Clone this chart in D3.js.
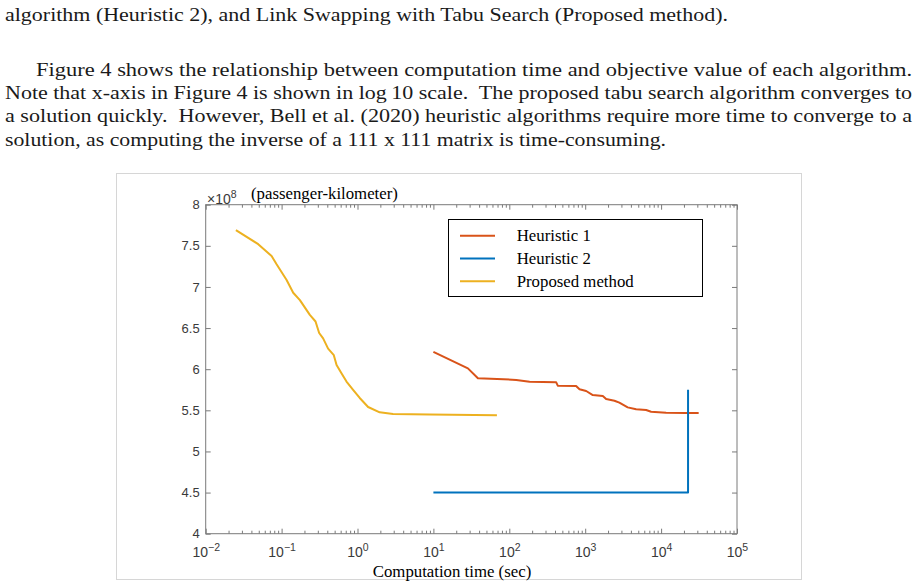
<!DOCTYPE html>
<html>
<head>
<meta charset="utf-8">
<script src="https://cdn.jsdelivr.net/npm/d3@7"></script>
<style>
  html, body { margin: 0; padding: 0; background: #fff; }
  svg { display: block; }
</style>
</head>
<body>
<svg id="page" width="919" height="588"></svg>
<script>
// ---------------- data ----------------
const paragraphLines = [
  "algorithm (Heuristic 2), and Link Swapping with Tabu Search (Proposed method).",
  "Figure 4 shows the relationship between computation time and objective value of each algorithm.",
  "Note that x-axis in Figure 4 is shown in log\u200910 scale.  The proposed tabu search algorithm converges to",
  "a solution quickly.  However, Bell et al. (2020) heuristic algorithms require more time to converge to a",
  "solution, as computing the inverse of a 111 x 111 matrix is time-consuming."
];

const seriesNames = ["Heuristic 1", "Heuristic 2", "Proposed method"];

const heuristic1Time = [10, 28.5, 38.6, 123.6, 185, 415, 435, 759, 841, 1030, 1259, 1706, 1888,
  2427, 2818, 3631, 4688, 6353, 7379, 11641, 21330, 31260];
const heuristic1Value = [6.21, 6.01, 5.89, 5.87, 5.848, 5.84, 5.80, 5.796, 5.756, 5.735, 5.686,
  5.674, 5.637, 5.617, 5.593, 5.536, 5.512, 5.504, 5.483, 5.471, 5.467, 5.467];

const heuristic2Time = [10, 22650, 22650];
const heuristic2Value = [4.5, 4.5, 5.75];

const proposedTime = [0.025, 0.0492, 0.0738, 0.0859, 0.1164, 0.1422, 0.1742, 0.2355, 0.280,
  0.3126, 0.3524, 0.410, 0.4875, 0.53, 0.615, 0.716, 0.875, 1.07, 1.38, 1.96, 2.94, 8.93, 68.7];
const proposedValue = [7.69, 7.52, 7.376, 7.275, 7.085, 6.93, 6.84, 6.66, 6.58, 6.44, 6.375,
  6.25, 6.17, 6.05, 5.95, 5.85, 5.75, 5.65, 5.54, 5.476, 5.455, 5.45, 5.44];

const xTickExponents = [-2, -1, 0, 1, 2, 3, 4, 5];
const yTicks = [4, 4.5, 5, 5.5, 6, 6.5, 7, 7.5, 8];
const yExponentLabel = "8";
const yUnitLabel = "(passenger-kilometer)";
const xAxisTitle = "Computation time (sec)";

// ---------------- layout ----------------
const svg = d3.select("#page");
const colors = ["#D95319", "#0072BD", "#EDB120"];
const serif = "'Liberation Serif', 'Times New Roman', serif";
const sans = "'Liberation Sans', Arial, sans-serif";

// paragraph
const paraSpec = [
  {x: 5,  y: 20.5,  w: 723},
  {x: 36, y: 75.5,  w: 876},
  {x: 5,  y: 98.5,  w: 907},
  {x: 5,  y: 122,   w: 907},
  {x: 5,  y: 145.5, w: 661}
];
svg.append("g").selectAll("text").data(paragraphLines).join("text")
  .attr("x", (d, i) => paraSpec[i].x)
  .attr("y", (d, i) => paraSpec[i].y)
  .attr("textLength", (d, i) => paraSpec[i].w)
  .attr("lengthAdjust", "spacingAndGlyphs")
  .attr("font-family", serif)
  .attr("font-size", 19.5)
  .attr("fill", "#1a1a1a")
  .style("white-space", "pre")
  .text(d => d);

// figure frame
svg.append("rect").attr("x", 116.5).attr("y", 173.5).attr("width", 685).attr("height", 406)
  .attr("fill", "#fff").attr("stroke", "#d6d6d6").attr("stroke-width", 1);

const plot = {left: 205.7, right: 737, top: 204.7, bottom: 533.7};
const x = d3.scaleLog().domain([1e-2, 1e5]).range([plot.left, plot.right]);
const y = d3.scaleLinear().domain([4, 8]).range([plot.bottom, plot.top]);

const axisColor = "#7a7a7a";
const labelColor = "#3a3a3a";

const majorX = xTickExponents.map(e => Math.pow(10, e));
const minorX = [];
xTickExponents.slice(0, -1).forEach(e => {
  for (let k = 2; k <= 9; k++) minorX.push(k * Math.pow(10, e));
});

function styleAxis(g) {
  g.select(".domain").remove();
  g.selectAll("line").attr("stroke", axisColor);
}

// bottom major
const gBottom = svg.append("g").attr("transform", `translate(0,${plot.bottom})`)
  .call(d3.axisBottom(x).tickValues(majorX).tickSize(-5).tickSizeOuter(0).tickPadding(13).tickFormat(""))
  .call(styleAxis);
gBottom.selectAll(".tick text").each(function(d) {
  const t = d3.select(this);
  const e = Math.round(Math.log10(d));
  t.attr("font-family", sans).attr("font-size", 14).attr("fill", labelColor)
    .attr("text-anchor", "middle");
  t.append("tspan").text("10");
  t.append("tspan").attr("dy", "-0.55em").attr("font-size", 10.5)
    .text(e < 0 ? "\u2212" + Math.abs(e) : String(e));
});
// bottom minor
svg.append("g").attr("transform", `translate(0,${plot.bottom})`)
  .call(d3.axisBottom(x).tickValues(minorX).tickSize(-3).tickSizeOuter(0).tickFormat(""))
  .call(styleAxis);
// top major & minor
svg.append("g").attr("transform", `translate(0,${plot.top})`)
  .call(d3.axisTop(x).tickValues(majorX).tickSize(-5).tickSizeOuter(0).tickFormat(""))
  .call(styleAxis);
svg.append("g").attr("transform", `translate(0,${plot.top})`)
  .call(d3.axisTop(x).tickValues(minorX).tickSize(-3).tickSizeOuter(0).tickFormat(""))
  .call(styleAxis);
// left
svg.append("g").attr("transform", `translate(${plot.left},0)`)
  .call(d3.axisLeft(y).tickValues(yTicks).tickSize(-5).tickSizeOuter(0).tickPadding(6)
    .tickFormat(d => String(d)))
  .call(styleAxis)
  .call(g => g.selectAll(".tick text").attr("font-family", sans).attr("font-size", 13)
    .attr("fill", labelColor));
// right
svg.append("g").attr("transform", `translate(${plot.right},0)`)
  .call(d3.axisRight(y).tickValues(yTicks).tickSize(-5).tickSizeOuter(0).tickFormat(""))
  .call(styleAxis);

// box
svg.append("rect").attr("x", plot.left).attr("y", plot.top)
  .attr("width", plot.right - plot.left).attr("height", plot.bottom - plot.top)
  .attr("fill", "none").attr("stroke", axisColor).attr("stroke-width", 1);

// series
const line = d3.line().x(d => x(d[0])).y(d => y(d[1]));
const series = [
  d3.zip(heuristic1Time, heuristic1Value),
  d3.zip(heuristic2Time, heuristic2Value),
  d3.zip(proposedTime, proposedValue)
];
svg.append("g").selectAll("path").data(series).join("path")
  .attr("d", line)
  .attr("fill", "none")
  .attr("stroke", (d, i) => colors[i])
  .attr("stroke-width", 2)
  .attr("stroke-linejoin", "round");

// exponent label & unit
const expT = svg.append("text").attr("x", 207).attr("y", 204)
  .attr("font-family", sans).attr("font-size", 14).attr("fill", labelColor);
expT.append("tspan").text("\u00d710");
expT.append("tspan").attr("dy", "-0.55em").attr("font-size", 10.5).text(yExponentLabel);

svg.append("text").attr("x", 251).attr("y", 198.5)
  .attr("font-family", serif).attr("font-size", 16.8).attr("fill", "#000")
  .text(yUnitLabel);

svg.append("text").attr("x", 452).attr("y", 576.5).attr("text-anchor", "middle")
  .attr("font-family", serif).attr("font-size", 16.8).attr("fill", "#000")
  .text(xAxisTitle);

// legend
const leg = svg.append("g");
leg.append("rect").attr("x", 448.5).attr("y", 219.5).attr("width", 254).attr("height", 77)
  .attr("fill", "#fff").attr("stroke", "#000").attr("stroke-width", 1);
const rows = leg.selectAll("g").data(seriesNames).join("g")
  .attr("transform", (d, i) => `translate(0,${235.7 + i * 22.8})`);
rows.append("line").attr("x1", 460).attr("x2", 495)
  .attr("stroke", (d, i) => colors[i]).attr("stroke-width", 2);
rows.append("text").attr("x", 516.7).attr("y", 5.3)
  .attr("font-family", serif).attr("font-size", 16.8).attr("fill", "#000")
  .text(d => d);
</script>
</body>
</html>
